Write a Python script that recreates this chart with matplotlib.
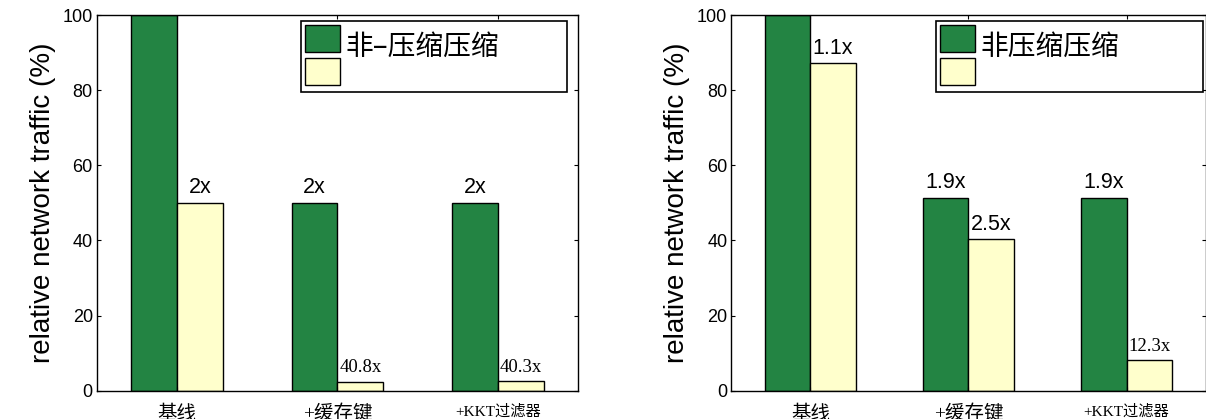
import matplotlib.pyplot as plt
import matplotlib.transforms as mtransforms
import numpy as np
from matplotlib.patches import Patch
from matplotlib.font_manager import FontProperties

categories = ['基线', '+缓存键', '+KKT过滤器']

# left panel
left_uncompressed = [100, 50, 50]
left_compressed = [50, 2.45, 2.48]
left_labels_unc = ['', '2x', '2x']
left_labels_cmp = ['2x', '40.8x', '40.3x']
left_legend = '非–压缩压缩'

# right panel
right_uncompressed = [100, 51.4, 51.4]
right_compressed = [87.1, 40.3, 8.1]
right_labels_unc = ['', '1.9x', '1.9x']
right_labels_cmp = ['1.1x', '2.5x', '12.3x']
right_legend = '非压缩压缩'

yticks = [0, 20, 40, 60, 80, 100]
ylabel = 'relative network traffic (%)'

GREEN = '#238443'
YELLOW = '#ffffcc'
SANS = ['Liberation Sans', 'DejaVu Sans']
SERIF = ['Liberation Serif', 'DejaVu Serif']
SERIF_CJK = ['Liberation Serif', 'Noto Sans CJK SC', 'DejaVu Sans']
CJK = ['Noto Sans CJK SC', 'DejaVu Sans']

fig = plt.figure(figsize=(12.06, 4.19), dpi=100)


def draw(ax, unc, cmp, lab_unc, lab_cmp, legend_text, legend_x0, legend_x1):
    x = np.arange(1, len(categories) + 1)
    w = 2 / 7
    bars_u = ax.bar(x - w / 2, unc, w, color=GREEN, edgecolor='black', linewidth=1.0)
    bars_c = ax.bar(x + w / 2, cmp, w, color=YELLOW, edgecolor='black', linewidth=1.0)

    # reduction factors above the bars; tiny bars get a serif label
    for bars, labels in ((bars_u, lab_unc), (bars_c, lab_cmp)):
        for b, t in zip(bars, labels):
            if not t:
                continue
            small = b.get_height() < 10
            ax.annotate(t, (b.get_x() + b.get_width() / 2, b.get_height()),
                        xytext=(0, 7), textcoords='offset points',
                        ha='center', va='baseline',
                        fontsize=13.5 if small else 15.5,
                        family=SERIF if small else SANS)

    ax.set_xlim(0.5, 3.5)
    ax.set_ylim(0, 100)
    ax.set_xticks(x)
    ax.set_xticklabels(categories, family=SERIF_CJK)
    for lbl in ax.get_xticklabels():
        lbl.set_fontsize(11 if len(lbl.get_text()) > 4 else 14)
    ax.set_yticks(yticks)
    ax.set_yticklabels([str(v) for v in yticks], family=SANS, fontsize=13)
    ax.tick_params(direction='in', length=3, width=0.8, top=True, right=True)
    ax.tick_params(axis='y', pad=3)
    ax.tick_params(axis='x', pad=10)
    ax.set_ylabel(ylabel, family=SANS, fontsize=20, labelpad=5)
    for s in ax.spines.values():
        s.set_linewidth(1.0)

    handles = [Patch(facecolor=GREEN, edgecolor='black', linewidth=1.0),
               Patch(facecolor=YELLOW, edgecolor='black', linewidth=1.0)]
    leg = ax.legend(handles, [legend_text, ''],
                    loc='upper left', mode='expand',
                    bbox_to_anchor=(legend_x0, 0.8, legend_x1 - legend_x0, 0.185),
                    prop=FontProperties(family=CJK, size=20),
                    handlelength=1.26, handleheight=1.117, handletextpad=0.2,
                    labelspacing=0.1, borderpad=0.15, borderaxespad=0,
                    fancybox=False, framealpha=1)
    leg.get_frame().set_edgecolor('black')
    leg.get_frame().set_linewidth(1.2)
    # legend label sits a little lower than the patch
    t = leg.get_texts()[0]
    t.set_transform(t.get_transform() +
                    mtransforms.ScaledTranslation(0, -5 / 72, fig.dpi_scale_trans))


ax1 = fig.add_axes([0.0804, 0.0675, 0.3988, 0.8967])
ax2 = fig.add_axes([0.6065, 0.0675, 0.3931, 0.8967])

draw(ax1, left_uncompressed, left_compressed, left_labels_unc, left_labels_cmp,
     left_legend, 0.424, 0.977)
draw(ax2, right_uncompressed, right_compressed, right_labels_unc, right_labels_cmp,
     right_legend, 0.431, 0.994)

fig.savefig('out.png', dpi=100)
